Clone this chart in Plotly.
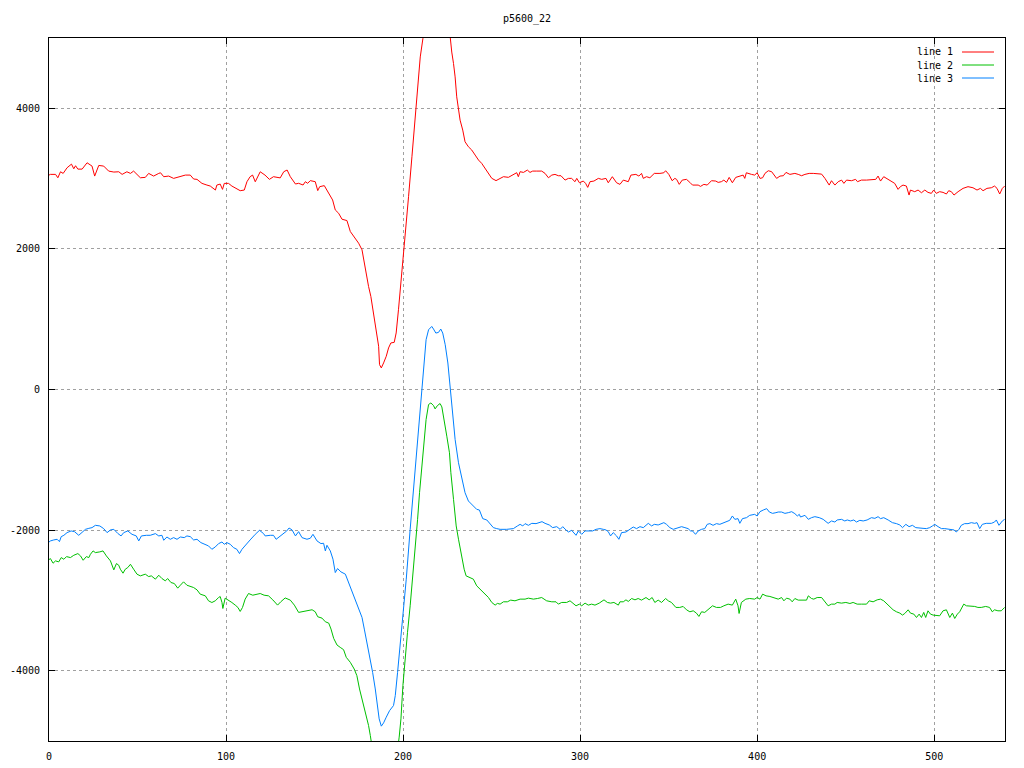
import plotly.graph_objects as go

# ---- data (x, value) ----
line1_points = [
    (0, 3050), (0.8, 3060), (3.7, 3060), (5.0, 3012), (6.5, 3097), (8.0, 3074), (10.2, 3154), (12.7, 3206),
    (14.0, 3140), (15.0, 3183), (16.3, 3135), (18.7, 3135), (21.5, 3225), (24.3, 3178), (25.8, 3036),
    (28.1, 3187), (30.9, 3178), (33.7, 3107), (36.6, 3093), (39.4, 3097), (41.3, 3060), (44.0, 3097),
    (46.0, 3074), (47.8, 3107), (51.6, 3012), (54.4, 3017), (56.3, 3074), (59.1, 3036), (62.0, 3074),
    (63.0, 3083), (64.8, 3027), (67.6, 3036), (70.4, 3003), (73.2, 3027), (77.0, 3050), (79.8, 3050),
    (81.7, 2994), (83.6, 2989), (86.4, 2932), (89.2, 2908), (91.1, 2894), (94.0, 2837), (94.8, 2908),
    (96.7, 2922), (98.0, 2847), (99.0, 2932), (101.4, 2932), (103.3, 2894), (106.0, 2861), (108.0, 2828),
    (110.3, 2837), (111.8, 2955), (113.6, 3027), (115.0, 3050), (116.5, 2955), (119.3, 3097), (122.0, 3050),
    (124.5, 2989), (126.8, 3027), (129.6, 3017), (130.6, 3010), (132.6, 3098), (134.5, 3122), (136.3, 3027),
    (138.2, 2956), (139.2, 2923), (141.0, 2933), (143.5, 2909), (144.8, 2956), (146.1, 2933), (147.6, 2971),
    (150.4, 2956), (151.8, 2829), (152.9, 2885), (155.5, 2900), (158.0, 2791), (160.2, 2696), (161.7, 2554),
    (163.6, 2507), (165.5, 2422), (168.3, 2403), (170.2, 2247), (172.4, 2166), (174.9, 2081), (176.8, 1987),
    (177.7, 1845), (179.2, 1655), (180.5, 1466), (181.8, 1324), (183.3, 1088), (184.8, 851), (186.2, 615),
    (186.7, 354), (187.7, 307), (189.0, 378), (190.5, 473), (191.8, 591), (193.1, 662), (195.0, 671),
    (196.1, 804), (197.4, 1135), (198.8, 1513), (199.9, 1845), (201.2, 2270), (203.1, 2743), (205.0, 3311),
    (206.8, 3879), (208.3, 4352), (209.7, 4731), (211.2, 4991), (213.0, 5500), (215.0, 6000), (218.0, 6300),
    (220.0, 6200), (223.0, 5900), (225.5, 5250), (226.6, 4991), (227.5, 4800), (228.5, 4636), (229.4, 4447),
    (230.3, 4163), (231.3, 3974), (232.2, 3832), (233.7, 3690), (235.0, 3524), (236.9, 3453), (238.8, 3406),
    (240.7, 3335), (242.6, 3264), (244.4, 3217), (246.3, 3146), (248.2, 3075), (250.1, 3004), (252.5, 2971),
    (254.8, 3004), (256.7, 3027), (259.5, 3018), (262.3, 3065), (264.2, 3084), (265.1, 3027), (266.1, 3098),
    (268.0, 3088), (270.2, 3121), (271.7, 3088), (273.2, 3107), (275.5, 3107), (278.3, 3107), (280.2, 3074),
    (282.1, 3012), (284.0, 3050), (285.8, 3060), (287.7, 3041), (289.2, 3041), (291.5, 2979), (293.4, 3003),
    (295.2, 3003), (297.1, 2956), (298.1, 3003), (299.6, 2941), (301.8, 2965), (303.1, 2932), (304.3, 2875),
    (305.6, 2956), (307.8, 2965), (310.3, 3003), (312.2, 2989), (314.6, 3003), (315.9, 2941), (318.2, 3027),
    (320.6, 2941), (322.5, 2918), (324.4, 2979), (327.2, 2956), (328.7, 3050), (331.5, 3060), (333.2, 3036),
    (334.7, 3074), (335.7, 3003), (337.5, 3027), (339.4, 3012), (341.9, 3074), (345.1, 3074), (347.3, 3083),
    (348.3, 3112), (350.1, 3060), (352.0, 2970), (353.5, 3003), (354.5, 2989), (356.0, 2918), (357.7, 2979),
    (360.1, 2989), (362.0, 2946), (363.5, 2908), (366.7, 2908), (368.0, 2889), (369.9, 2918), (371.8, 2908),
    (374.2, 2970), (376.6, 2965), (378.0, 2946), (379.8, 2956), (381.2, 2979), (382.7, 2946), (384.2, 3017),
    (386.0, 2941), (387.9, 3017), (390.2, 3036), (392.1, 3050), (393.0, 3003), (393.9, 3083), (396.8, 3060),
    (398.6, 3050), (400.0, 3083), (401.6, 3003), (403.1, 3012), (404.4, 3074), (406.3, 3112), (408.2, 3098),
    (411.0, 3003), (412.9, 3036), (414.8, 3041), (416.3, 3088), (418.5, 3060), (421.3, 3074), (423.2, 3060),
    (425.1, 3041), (427.0, 3060), (429.4, 3074), (431.7, 3074), (433.6, 3074), (436.4, 3064), (438.3, 3003),
    (440.7, 2908), (442.0, 2970), (443.9, 2908), (445.8, 2956), (447.7, 2979), (449.0, 2932), (450.5, 2979),
    (453.3, 2970), (455.6, 2989), (456.7, 2956), (458.9, 2979), (461.8, 2979), (465.5, 2979), (467.0, 2989),
    (468.3, 3036), (469.7, 2965), (471.5, 3027), (474.0, 2989), (476.4, 2956), (477.7, 2932), (479.6, 2847),
    (480.9, 2885), (482.4, 2908), (484.3, 2894), (485.8, 2766), (486.6, 2837), (489.0, 2814), (490.9, 2837),
    (492.8, 2799), (494.7, 2837), (496.5, 2804), (498.4, 2790), (499.7, 2837), (501.2, 2790), (503.1, 2814),
    (505.0, 2804), (506.9, 2781), (508.2, 2828), (509.7, 2814), (511.2, 2766), (513.5, 2814), (516.3, 2861),
    (519.1, 2885), (521.9, 2870), (524.2, 2837), (526.1, 2861), (527.6, 2828), (529.8, 2861), (532.3, 2870),
    (534.1, 2894), (535.5, 2861), (537.0, 2781), (538.5, 2861), (539.8, 2894),
]

line2_points = [
    (0, -2420), (0.8, -2405), (2.3, -2471), (3.7, -2438), (5.5, -2452), (6.9, -2391), (8.4, -2415), (9.9, -2377),
    (12.1, -2391), (14.0, -2358), (16.3, -2334), (17.8, -2367), (19.3, -2429), (21.1, -2377), (22.5, -2391),
    (23.4, -2344), (24.9, -2296), (26.2, -2320), (28.7, -2310), (30.5, -2296), (32.4, -2367), (34.7, -2438),
    (36.6, -2566), (38.1, -2476), (39.4, -2500), (40.3, -2556), (41.8, -2613), (43.1, -2556), (44.5, -2533),
    (46.0, -2486), (47.8, -2556), (49.7, -2627), (51.6, -2651), (54.4, -2627), (56.3, -2661), (57.8, -2651),
    (60.1, -2698), (62.0, -2642), (63.8, -2689), (65.7, -2722), (67.0, -2689), (68.9, -2746), (70.8, -2760),
    (72.7, -2826), (74.2, -2784), (76.0, -2736), (77.9, -2784), (79.8, -2803), (81.7, -2817), (83.6, -2850),
    (85.4, -2911), (88.3, -2935), (90.1, -3006), (92.0, -3030), (93.9, -3006), (95.8, -2959), (96.7, -2945),
    (97.7, -3030), (98.2, -3115), (99.5, -2968), (101.4, -2996), (103.3, -3030), (105.2, -3067), (106.7, -3100),
    (108.0, -3157), (109.3, -3100), (110.8, -2982), (112.7, -2902), (115.1, -2926), (117.4, -2911),
    (119.3, -2902), (121.5, -2926), (124.0, -2935), (126.4, -2992), (129.1, -3067), (130.9, -3020),
    (133.4, -2965), (136.3, -2996), (138.6, -3067), (141.0, -3171), (143.5, -3157), (145.7, -3148),
    (148.6, -3133), (150.4, -3162), (151.8, -3233), (154.2, -3252), (156.1, -3304), (158.0, -3323),
    (159.3, -3408), (160.8, -3540), (162.7, -3635), (164.5, -3668), (166.4, -3701), (167.9, -3810),
    (170.2, -3881), (172.4, -3976), (173.9, -4070), (175.4, -4260), (177.3, -4449), (179.2, -4614),
    (180.5, -4780), (181.5, -4922), (183.0, -5200), (185.0, -5500), (188.0, -5800), (191.0, -5700),
    (194.0, -5500), (196.5, -5200), (197.8, -4945), (198.8, -4685), (199.9, -4212), (201.2, -3786),
    (202.5, -3455), (204.0, -3077), (205.5, -2651), (206.8, -2320), (208.2, -1847), (209.3, -1468),
    (210.6, -1090), (211.9, -711), (213.0, -427), (214.4, -214), (215.7, -191), (217.2, -229), (218.1, -276),
    (219.4, -229), (220.9, -200), (221.9, -248), (223.2, -427), (224.7, -664), (226.2, -900), (227.0, -1184),
    (228.5, -1563), (230.0, -1941), (231.3, -2130), (233.2, -2414), (234.5, -2556), (235.6, -2651),
    (237.9, -2675), (239.7, -2698), (241.6, -2793), (243.5, -2840), (245.8, -2897), (248.2, -2958),
    (250.1, -3029), (252.0, -3067), (253.3, -3043), (254.8, -3053), (256.7, -3020), (258.9, -3020),
    (260.8, -2996), (263.2, -3006), (266.1, -2982), (268.9, -2982), (270.8, -2968), (273.6, -2982),
    (275.9, -2973), (278.3, -2959), (281.1, -3006), (284.0, -3020), (286.4, -3020), (287.7, -3053),
    (289.6, -3029), (292.4, -3029), (294.3, -3006), (295.8, -3044), (297.7, -3077), (299.6, -3053),
    (300.9, -3077), (302.8, -3039), (304.6, -3067), (306.5, -3053), (308.4, -3067), (310.8, -3039),
    (313.5, -2992), (315.4, -3029), (317.2, -3039), (319.1, -3029), (321.6, -3067), (322.5, -3020),
    (324.4, -3020), (325.9, -2992), (327.2, -3015), (329.1, -2973), (331.0, -2992), (332.8, -2973),
    (334.7, -2996), (337.2, -2959), (339.0, -2992), (340.7, -2959), (342.2, -3029), (344.1, -2996),
    (346.0, -3029), (348.3, -2973), (349.8, -3006), (351.6, -3029), (354.1, -3100), (356.3, -3100),
    (358.2, -3086), (360.1, -3134), (362.0, -3162), (363.9, -3148), (365.7, -3181), (367.1, -3228),
    (368.6, -3162), (370.4, -3171), (372.3, -3124), (374.8, -3077), (377.0, -3100), (379.3, -3100),
    (381.2, -3077), (383.6, -3053), (386.0, -3067), (387.9, -2982), (389.2, -3077), (389.8, -3186),
    (391.1, -3029), (393.6, -2982), (395.8, -2973), (398.6, -2982), (400.0, -2959), (401.6, -2982),
    (403.1, -2911), (405.0, -2935), (407.2, -2944), (409.5, -2959), (411.9, -2982), (413.8, -2959),
    (415.1, -3006), (416.6, -2968), (418.5, -2982), (419.8, -3020), (421.3, -2973), (423.2, -2996),
    (426.0, -2996), (427.9, -2996), (428.9, -2935), (430.7, -2973), (432.0, -2982), (433.9, -2959),
    (436.4, -2959), (438.3, -3029), (440.1, -3077), (442.0, -3053), (443.9, -3053), (445.2, -3029),
    (447.7, -3039), (450.1, -3029), (452.4, -3044), (454.2, -3029), (456.5, -3053), (458.9, -3053),
    (461.8, -3053), (463.3, -3006), (465.5, -3020), (467.8, -2992), (469.7, -2982), (471.5, -3006),
    (473.4, -3053), (474.9, -3100), (476.8, -3134), (478.7, -3162), (480.6, -3181), (482.1, -3209),
    (483.4, -3186), (485.3, -3134), (486.6, -3181), (488.5, -3195), (490.0, -3243), (491.5, -3195),
    (492.8, -3243), (494.1, -3171), (495.2, -3243), (496.5, -3148), (497.9, -3195), (499.4, -3209),
    (501.2, -3209), (503.1, -3219), (505.0, -3148), (506.9, -3134), (508.8, -3243), (510.3, -3181),
    (511.6, -3257), (513.1, -3195), (514.4, -3162), (516.7, -3053), (518.2, -3077), (520.4, -3077),
    (522.9, -3086), (524.7, -3100), (526.6, -3100), (529.1, -3086), (531.3, -3100), (532.8, -3162),
    (534.1, -3134), (536.0, -3148), (537.9, -3148), (539.8, -3100),
]

line3_points = [
    (0, -2170), (0.8, -2154), (2.7, -2140), (4.6, -2131), (5.9, -2164), (6.9, -2093), (8.4, -2074), (10.2, -2036),
    (12.5, -2012), (14.4, -2022), (16.8, -2074), (18.7, -2036), (20.6, -1989), (22.5, -1975), (24.3, -1965),
    (26.2, -1932), (28.7, -1941), (30.9, -1979), (32.8, -2036), (34.7, -1998), (36.6, -1989), (38.8, -2046),
    (40.7, -2083), (42.2, -2036), (44.5, -2012), (46.9, -2060), (49.3, -2083), (50.7, -2154), (52.2, -2083),
    (55.0, -2074), (57.2, -2074), (60.1, -2050), (62.0, -2083), (63.8, -2074), (64.8, -2145), (66.6, -2098),
    (68.5, -2131), (70.4, -2107), (72.3, -2131), (74.2, -2098), (76.4, -2107), (77.9, -2083), (79.8, -2093),
    (81.7, -2140), (83.6, -2131), (85.8, -2178), (88.3, -2202), (90.1, -2225), (92.0, -2273), (93.9, -2240),
    (95.8, -2192), (97.7, -2169), (99.0, -2202), (100.5, -2178), (102.4, -2202), (104.2, -2249),
    (106.1, -2273), (107.6, -2334), (109.0, -2273), (110.8, -2216), (113.6, -2140), (116.5, -2060),
    (118.9, -2003), (121.2, -2050), (122.1, -2083), (125.0, -2074), (126.8, -2074), (128.3, -2131),
    (130.2, -2093), (132.4, -2060), (134.3, -2012), (135.6, -1970), (137.3, -1998), (139.2, -2083),
    (141.0, -2022), (142.9, -2107), (145.7, -2130), (147.6, -2116), (149.1, -2060), (151.4, -2154),
    (153.6, -2192), (155.1, -2187), (156.1, -2296), (157.0, -2216), (158.9, -2296), (160.4, -2414),
    (161.7, -2604), (163.0, -2547), (164.9, -2594), (167.4, -2627), (169.2, -2746), (171.1, -2850),
    (173.0, -2982), (174.9, -3124), (176.8, -3242), (178.1, -3408), (179.6, -3597), (181.1, -3786),
    (182.8, -4023), (184.3, -4260), (185.6, -4496), (186.5, -4685), (187.7, -4789), (189.0, -4742),
    (190.5, -4661), (192.4, -4567), (194.6, -4496), (195.6, -4354), (196.9, -4023), (198.4, -3644),
    (199.9, -3171), (201.8, -2698), (204.0, -1989), (205.9, -1421), (207.8, -900), (209.3, -475),
    (210.6, -96), (211.9, 377), (213.0, 708), (214.4, 850), (216.2, 897), (217.2, 860), (218.5, 803),
    (220.0, 812), (221.3, 860), (222.4, 803), (223.8, 637), (225.3, 377), (226.6, 46), (228.1, -380),
    (229.4, -711), (231.3, -1042), (233.2, -1279), (235.0, -1468), (236.9, -1586), (239.4, -1648),
    (241.6, -1705), (243.1, -1714), (245.0, -1837), (247.3, -1856), (249.1, -1903), (251.0, -1965),
    (252.9, -1979), (254.8, -1989), (258.5, -1989), (262.3, -1979), (264.6, -1941), (266.1, -1918),
    (267.6, -1941), (268.9, -1908), (270.8, -1932), (272.7, -1904), (275.1, -1908), (277.0, -1894),
    (278.5, -1880), (280.2, -1904), (282.6, -1927), (284.5, -1965), (286.8, -1951), (288.7, -1989),
    (290.2, -1951), (292.0, -1998), (293.4, -2027), (295.2, -2003), (296.6, -2036), (297.7, -2074),
    (299.0, -2012), (300.9, -2060), (302.8, -2012), (304.6, -2012), (307.1, -2012), (309.0, -1989),
    (311.2, -1979), (313.1, -1989), (314.6, -1998), (315.9, -2022), (317.2, -2083), (318.7, -2036),
    (320.6, -2083), (321.9, -2131), (323.4, -2036), (325.9, -2027), (327.8, -1998), (330.0, -1956),
    (331.9, -1979), (333.8, -1951), (335.7, -1965), (338.5, -1904), (340.4, -1941), (341.9, -1918),
    (344.1, -1927), (346.0, -1908), (347.3, -1894), (348.8, -1918), (350.7, -1965), (352.6, -1989),
    (354.8, -1975), (357.3, -1951), (359.2, -1965), (361.0, -1979), (362.4, -2012), (363.5, -2012),
    (365.2, -2060), (366.7, -2012), (368.6, -1989), (370.4, -1979), (371.8, -1918), (373.3, -1908),
    (375.1, -1932), (377.0, -1908), (378.9, -1918), (381.2, -1894), (383.0, -1870), (384.5, -1861),
    (386.0, -1799), (387.4, -1847), (389.2, -1837), (390.2, -1904), (391.7, -1837), (394.0, -1823),
    (395.8, -1790), (398.6, -1776), (400.0, -1799), (401.6, -1738), (403.5, -1714), (405.4, -1695),
    (406.9, -1743), (408.7, -1762), (410.6, -1752), (411.9, -1743), (413.8, -1743), (415.7, -1762),
    (417.6, -1752), (419.5, -1738), (421.3, -1766), (422.7, -1799), (423.8, -1776), (424.5, -1814),
    (427.0, -1790), (428.9, -1847), (430.7, -1823), (432.6, -1809), (435.1, -1823), (437.3, -1847),
    (440.1, -1904), (442.0, -1870), (443.9, -1885), (445.2, -1856), (447.7, -1847), (449.5, -1870),
    (450.9, -1856), (452.7, -1870), (454.6, -1856), (456.1, -1885), (458.0, -1861), (459.9, -1870),
    (462.1, -1856), (464.6, -1823), (466.5, -1833), (468.3, -1809), (469.7, -1837), (471.5, -1823),
    (474.0, -1856), (476.4, -1894), (478.7, -1908), (480.6, -1927), (482.1, -1965), (484.0, -1918),
    (485.8, -1951), (487.7, -1932), (489.6, -1965), (491.8, -1975), (493.7, -1975), (495.6, -1979),
    (497.5, -1965), (499.0, -1941), (500.3, -1918), (502.2, -1951), (504.1, -1979), (506.0, -1979),
    (507.8, -1989), (509.7, -1998), (511.2, -1998), (512.5, -2027), (514.0, -1989), (515.3, -1932),
    (517.2, -1908), (519.1, -1908), (521.0, -1894), (522.9, -1904), (524.2, -1894), (525.7, -1979),
    (527.2, -1918), (529.4, -1904), (532.3, -1904), (534.1, -1885), (535.1, -1856), (536.6, -1932),
    (538.5, -1870), (539.8, -1847),
]

series_names = ["line 1", "line 2", "line 3"]
series_colors = ["#ff0000", "#00c000", "#0080ff"]
x_ticks = [0, 100, 200, 300, 400, 500]
y_ticks = [-4000, -2000, 0, 2000, 4000]
y_tick_labels = ["-4000", "-2000", "0", "2000", "4000"]
title_text = "p5600_22"

# ---- figure ----
W, H = 1024, 768
ML, MR, MT, MB = 49, 19, 38, 27
FONT = "DejaVu Sans Mono"

fig = go.Figure()
for pts, name, color in zip([line1_points, line2_points, line3_points], series_names, series_colors):
    xs = [p[0] for p in pts]
    ys = [p[1] for p in pts]
    fig.add_trace(go.Scatter(x=xs, y=ys, mode="lines", name=name,
                             line=dict(color=color, width=1), showlegend=False))

axis_common = dict(
    showline=True, linecolor="black", linewidth=1, mirror="ticks",
    ticks="inside", ticklen=6, tickcolor="black", tickwidth=1,
    showgrid=True, gridcolor="#a0a0a0", griddash="dot", gridwidth=1,
    zeroline=False, automargin=False,
    tickfont=dict(family=FONT, size=10, color="black"),
)
fig.update_xaxes(range=[0, 540], tickvals=x_ticks, ticktext=[str(v) for v in x_ticks],
                 ticklabelstandoff=6, **axis_common)
fig.update_yaxes(range=[-5000, 5000], tickvals=y_ticks, ticktext=y_tick_labels,
                 ticklabelstandoff=6, **axis_common)

# gnuplot-style key: text left, sample line right
pw, ph = W - ML - MR, H - MT - MB
def px(xp):
    return (xp - ML) / pw
def py(yp):
    return (H - MB - yp) / ph

key_rows = [52, 65, 78]
for name, color, yrow in zip(series_names, series_colors, key_rows):
    fig.add_annotation(text=name, xref="paper", yref="paper", x=px(955), y=py(yrow),
                       xanchor="right", yanchor="middle", showarrow=False,
                       font=dict(family=FONT, size=10, color="black"))
    fig.add_shape(type="line", xref="paper", yref="paper", x0=px(962), x1=px(994),
                  y0=py(yrow), y1=py(yrow), line=dict(color=color, width=1))

fig.update_layout(
    width=W, height=H,
    margin=dict(l=ML, r=MR, t=MT, b=MB, autoexpand=False),
    paper_bgcolor="white", plot_bgcolor="white",
    title=dict(text=title_text, x=(ML + pw / 2) / W, xanchor="center",
               yref="container", y=1 - 18 / H, yanchor="middle",
               font=dict(family=FONT, size=10, color="black")),
    font=dict(family=FONT, size=10, color="black"),
    hovermode=False,
)

fig.write_html("out.html", config={"displayModeBar": False, "staticPlot": True},
               post_script="document.body.style.margin='0';document.body.style.overflow='hidden';")
